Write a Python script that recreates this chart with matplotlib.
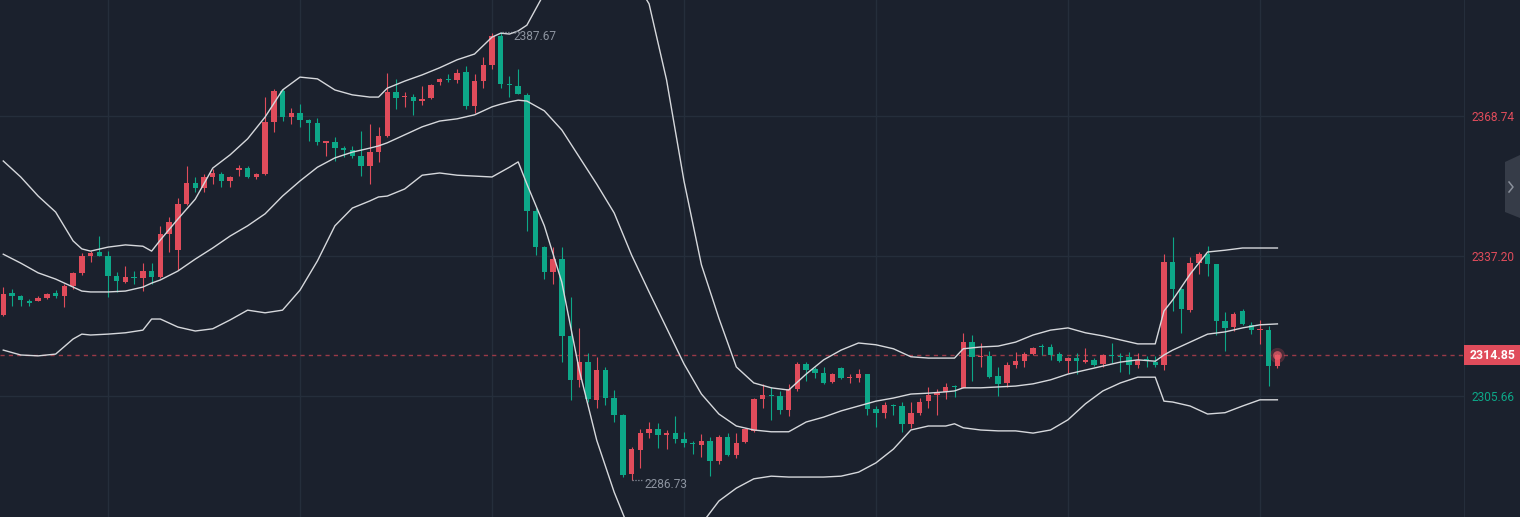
import numpy as np
import matplotlib.pyplot as plt
from matplotlib.patches import Rectangle, Polygon
from matplotlib.lines import Line2D
from matplotlib.transforms import blended_transform_factory, offset_copy

# candle data (index = bar number)
opens = [2323.9, 2328.9, 2328.2, 2327.1, 2327.1, 2327.7, 2328.9, 2328.2, 2330.4, 2333.4,
         2337.2, 2338.1, 2337.2, 2332.7, 2331.3, 2332.5, 2332.2, 2333.8, 2332.5, 2342.2,
         2338.5, 2348.9, 2353.6, 2352.5, 2355.0, 2355.7, 2354.1, 2356.6, 2357.0, 2355.0,
         2355.7, 2367.4, 2374.4, 2368.5, 2369.4, 2367.8, 2367.2, 2362.7, 2362.9, 2361.5,
         2361.1, 2359.7, 2357.5, 2360.6, 2364.2, 2374.1, 2373.0, 2373.0, 2372.1, 2372.8,
         2376.4, 2377.1, 2376.9, 2378.6, 2371.0, 2376.6, 2380.2, 2386.8, 2375.9, 2375.5,
         2373.5, 2347.3, 2339.2, 2333.6, 2336.5, 2319.2, 2309.3, 2313.3, 2304.8, 2311.5,
         2305.2, 2301.4, 2288.1, 2293.5, 2297.3, 2298.2, 2296.9, 2297.3, 2296.0, 2295.1,
         2294.6, 2295.5, 2291.0, 2296.4, 2292.4, 2295.3, 2297.8, 2305.0, 2305.9, 2305.7,
         2302.5, 2307.2, 2312.9, 2311.7, 2310.8, 2308.8, 2312.0, 2309.7, 2309.7, 2310.6,
         2302.7, 2301.8, 2303.6, 2303.4, 2299.3, 2301.8, 2304.5, 2305.9, 2306.6, 2307.9,
         2307.5, 2317.8, 2314.4, 2314.7, 2310.2, 2308.6, 2312.6, 2313.5, 2315.1, 2316.9,
         2316.7, 2315.1, 2313.5, 2314.2, 2313.3, 2313.8, 2312.9, 2314.9, 2314.7, 2314.4,
         2312.6, 2314.0, 2313.3, 2312.6, 2335.8, 2329.8, 2325.0, 2335.6, 2337.6, 2335.4,
         2322.6, 2321.2, 2324.8, 2321.7, 2320.5, 2320.5, 2312.4]
highs = [2330.2, 2329.8, 2328.3, 2327.5, 2328.2, 2328.9, 2329.5, 2330.9, 2333.5, 2337.9,
         2338.3, 2341.7, 2338.3, 2333.6, 2334.9, 2333.8, 2335.6, 2335.6, 2343.9, 2346.0,
         2350.3, 2357.5, 2355.0, 2355.7, 2356.8, 2356.1, 2355.2, 2357.7, 2357.5, 2355.9,
         2373.0, 2374.8, 2374.8, 2370.5, 2371.4, 2368.1, 2368.3, 2363.1, 2364.0, 2362.0,
         2362.0, 2365.4, 2366.9, 2366.3, 2378.4, 2377.1, 2374.1, 2373.7, 2375.5, 2375.9,
         2377.3, 2378.2, 2379.3, 2380.0, 2378.2, 2382.0, 2387.4, 2387.67, 2377.7, 2379.3,
         2373.9, 2348.0, 2339.5, 2339.2, 2339.2, 2328.0, 2321.0, 2315.3, 2314.4, 2312.2,
         2307.0, 2301.5, 2294.2, 2298.2, 2299.8, 2299.6, 2298.0, 2301.2, 2297.5, 2295.5,
         2297.1, 2296.4, 2296.9, 2297.3, 2297.3, 2298.4, 2305.1, 2308.4, 2307.7, 2306.8,
         2308.4, 2313.3, 2313.3, 2312.2, 2312.2, 2310.8, 2312.2, 2310.6, 2311.7, 2310.7,
         2303.4, 2304.3, 2303.9, 2304.3, 2304.3, 2305.2, 2307.7, 2307.2, 2308.6, 2308.1,
         2319.8, 2319.4, 2317.6, 2315.8, 2312.2, 2313.3, 2315.6, 2315.6, 2316.7, 2317.4,
         2317.4, 2315.6, 2314.4, 2315.3, 2316.5, 2314.2, 2315.1, 2317.6, 2315.3, 2315.6,
         2315.3, 2314.7, 2314.7, 2337.6, 2341.5, 2329.9, 2337.0, 2338.1, 2339.5, 2335.5,
         2324.6, 2324.6, 2325.3, 2322.3, 2322.8, 2321.4, 2315.1]
lows = [2323.7, 2325.9, 2325.9, 2325.9, 2327.0, 2327.5, 2327.7, 2325.7, 2329.8, 2332.9,
        2335.8, 2337.1, 2328.0, 2329.1, 2331.1, 2330.9, 2329.3, 2330.9, 2332.2, 2338.1,
        2334.0, 2348.7, 2351.6, 2351.6, 2353.4, 2352.7, 2352.7, 2355.2, 2354.8, 2354.5,
        2355.4, 2365.1, 2367.6, 2366.9, 2366.3, 2363.1, 2362.2, 2359.7, 2358.6, 2359.5,
        2359.3, 2355.2, 2353.4, 2358.4, 2364.0, 2370.3, 2370.8, 2369.0, 2371.2, 2372.6,
        2375.7, 2376.4, 2376.2, 2370.3, 2369.4, 2375.0, 2379.3, 2375.0, 2373.0, 2373.6,
        2342.8, 2337.4, 2332.0, 2330.9, 2313.3, 2304.8, 2307.7, 2304.3, 2303.0, 2303.6,
        2299.8, 2287.4, 2286.73, 2289.4, 2296.2, 2293.9, 2293.7, 2295.1, 2294.2, 2292.6,
        2291.9, 2287.6, 2290.3, 2292.1, 2291.7, 2295.1, 2297.5, 2303.0, 2300.2, 2301.6,
        2301.2, 2306.8, 2309.0, 2309.7, 2308.4, 2308.6, 2309.5, 2308.6, 2308.8, 2301.4,
        2298.7, 2300.7, 2301.4, 2297.5, 2298.4, 2301.4, 2303.0, 2301.4, 2305.0, 2305.4,
        2307.4, 2309.0, 2312.2, 2309.7, 2305.7, 2307.7, 2312.0, 2312.2, 2314.9, 2314.9,
        2313.8, 2313.3, 2310.8, 2310.6, 2313.2, 2312.4, 2312.2, 2313.1, 2311.1, 2310.6,
        2312.0, 2312.2, 2312.2, 2311.5, 2324.8, 2319.8, 2324.6, 2333.1, 2332.7, 2319.4,
        2315.8, 2320.3, 2321.7, 2319.6, 2317.4, 2307.9, 2312.0]
closes = [2328.6, 2328.2, 2327.3, 2326.6, 2327.7, 2328.6, 2328.2, 2330.4, 2333.4, 2337.2,
          2337.9, 2337.2, 2332.7, 2331.6, 2332.5, 2332.2, 2333.8, 2332.5, 2342.2, 2344.9,
          2348.9, 2353.6, 2352.5, 2355.0, 2355.9, 2354.1, 2355.0, 2357.0, 2355.0, 2355.7,
          2367.4, 2374.4, 2368.5, 2369.4, 2367.8, 2367.2, 2362.9, 2363.0, 2361.5, 2361.1,
          2359.7, 2357.5, 2360.6, 2364.2, 2374.1, 2372.8, 2373.2, 2372.1, 2372.6, 2375.7,
          2377.1, 2376.9, 2378.4, 2371.0, 2376.6, 2380.2, 2386.8, 2375.9, 2375.7, 2373.7,
          2347.3, 2339.2, 2333.6, 2336.5, 2319.2, 2309.3, 2313.3, 2305.0, 2311.5, 2305.2,
          2301.4, 2287.9, 2293.7, 2297.3, 2298.2, 2296.9, 2297.3, 2296.0, 2295.1, 2294.8,
          2295.5, 2291.0, 2296.4, 2292.4, 2295.1, 2298.2, 2305.0, 2305.9, 2305.7, 2302.5,
          2307.2, 2312.9, 2311.5, 2310.8, 2308.6, 2310.6, 2309.7, 2309.9, 2310.6, 2302.7,
          2301.8, 2303.6, 2303.4, 2299.3, 2301.8, 2304.3, 2305.9, 2306.3, 2307.7, 2307.7,
          2317.8, 2314.4, 2314.7, 2309.9, 2308.4, 2312.6, 2313.5, 2315.1, 2316.5, 2316.7,
          2314.9, 2313.5, 2314.2, 2313.5, 2313.8, 2312.6, 2314.9, 2314.7, 2314.4, 2312.6,
          2313.8, 2313.5, 2312.6, 2335.8, 2329.8, 2325.3, 2335.6, 2337.6, 2335.4, 2322.6,
          2321.0, 2324.1, 2321.9, 2320.5, 2320.8, 2312.4, 2314.85]

# Bollinger band values read at these bars
band_idx = [0, 2, 4, 6, 8, 9, 10, 12, 14, 16, 17, 18, 20, 22, 24, 26, 28, 30, 32, 34,
            36, 38, 40, 42, 43, 44, 46, 48, 50, 52, 54, 56, 57, 58, 59, 60, 62, 64, 66, 68,
            70, 72, 74, 76, 78, 80, 82, 84, 86, 88, 90, 92, 94, 96, 98, 100, 102, 104, 106, 108,
            109, 110, 112, 114, 116, 118, 120, 122, 124, 126, 128, 130, 132, 133, 134, 136, 138, 140, 142, 144,
            146]
boll_up = [2358.6, 2355.0, 2350.7, 2347.1, 2340.6, 2338.8, 2338.3, 2339.2, 2339.7, 2339.4,
           2338.3, 2340.8, 2345.5, 2350.0, 2357.0, 2360.0, 2363.6, 2368.5, 2374.6, 2377.5,
           2377.1, 2374.6, 2373.5, 2373.0, 2373.0, 2375.0, 2376.6, 2378.0, 2379.6, 2381.4,
           2382.7, 2386.5, 2387.4, 2387.2, 2387.9, 2389.2, 2396.4, 2403.4, 2407.5, 2410.2,
           2408.4, 2400.5, 2394.0, 2376.9, 2354.1, 2335.2, 2323.2, 2312.2, 2308.6, 2307.5,
           2307.0, 2310.6, 2313.8, 2316.0, 2317.6, 2317.2, 2316.3, 2314.5, 2314.2, 2314.2,
           2314.2, 2316.3, 2316.7, 2316.9, 2317.8, 2319.4, 2320.5, 2321.0, 2319.9, 2319.2,
           2318.3, 2317.4, 2317.4, 2324.8, 2327.3, 2333.1, 2338.1, 2338.5, 2339.0, 2339.0,
           2339.0]
boll_mid = [2337.6, 2335.6, 2333.4, 2332.0, 2330.2, 2329.3, 2329.1, 2329.1, 2329.3, 2330.2,
            2331.1, 2331.8, 2333.8, 2336.5, 2339.0, 2341.7, 2344.0, 2346.7, 2350.7, 2354.1,
            2357.2, 2359.3, 2360.6, 2361.5, 2362.0, 2362.7, 2364.5, 2366.3, 2367.6, 2368.1,
            2369.0, 2370.8, 2371.4, 2371.9, 2372.3, 2372.1, 2369.9, 2365.6, 2359.5, 2353.4,
            2346.9, 2337.4, 2329.1, 2321.0, 2312.9, 2306.1, 2301.6, 2298.9, 2298.0, 2297.6,
            2297.6, 2299.8, 2300.9, 2302.3, 2303.4, 2304.5, 2305.2, 2306.1, 2306.3, 2306.6,
            2306.8, 2307.5, 2307.5, 2307.7, 2307.9, 2308.4, 2309.3, 2310.6, 2311.5, 2312.4,
            2313.3, 2313.8, 2313.5, 2314.9, 2316.0, 2317.8, 2319.6, 2320.1, 2321.0, 2321.7,
            2321.9]
boll_low = [2316.0, 2314.9, 2314.7, 2315.1, 2318.5, 2319.6, 2319.4, 2319.6, 2319.9, 2320.5,
            2323.0, 2323.0, 2321.2, 2320.3, 2320.8, 2322.8, 2325.0, 2324.4, 2325.0, 2329.5,
            2336.1, 2344.0, 2348.0, 2349.6, 2350.5, 2350.7, 2352.3, 2355.4, 2355.9, 2355.4,
            2355.2, 2355.0, 2356.1, 2357.2, 2358.4, 2353.4, 2344.0, 2331.3, 2311.5, 2295.7,
            2284.0, 2274.3, 2263.3, 2265.3, 2271.6, 2276.8, 2282.0, 2284.9, 2287.0, 2287.6,
            2287.4, 2287.4, 2287.4, 2287.6, 2288.5, 2290.6, 2293.7, 2298.0, 2298.9, 2298.9,
            2299.4, 2298.5, 2298.0, 2297.8, 2297.8, 2297.3, 2298.0, 2300.3, 2303.9, 2306.8,
            2308.6, 2309.9, 2309.9, 2304.5, 2304.3, 2303.4, 2301.6, 2301.9, 2303.4, 2304.8,
            2304.8]

axis_levels = [2368.74, 2337.20, 2305.66]
axis_labels = ['2368.74', '2337.20', '2305.66']
grid_bars = [12, 34, 56, 78, 100, 122, 144]

BG = '#1b212d'
GRID = '#252e3b'
RED = '#e04c5b'
GREEN = '#0da788'
BAND = '#d6d8dc'
TXT = '#8c939f'

plt.rcParams['font.family'] = ['Roboto', 'DejaVu Sans']

W, H = 1520, 517
fig = plt.figure(figsize=(W / 100, H / 100), dpi=100, facecolor=BG)
ax = fig.add_axes([0, 0, 1464 / W, 1])
ax.set_facecolor(BG)

o = np.array(opens)
h = np.array(highs)
l = np.array(lows)
c = np.array(closes)
x = np.arange(len(c))
cols = np.where(c >= o, RED, GREEN)

# grid
for gx in grid_bars:
    ax.axvline(gx, color=GRID, lw=1, zorder=0)
for gy in axis_levels:
    ax.axhline(gy, color=GRID, lw=1, zorder=0)

# candles
ax.vlines(x, l, h, colors=cols, lw=0.8, zorder=2)
ax.bar(x, np.maximum(np.abs(c - o), 0.25), bottom=np.minimum(o, c), width=0.62,
       color=cols, lw=0, zorder=3)

# bollinger
for band in (boll_up, boll_mid, boll_low):
    ax.plot(band_idx, band, color=BAND, lw=1.0, zorder=4, solid_joinstyle='round')

# last price line + glow
last = c[-1]
ax.axhline(last, color='#9a3a47', lw=1, ls=(0, (3, 3)), zorder=1)
ax.scatter([x[-1]], [last], s=120, color=RED, alpha=0.25, lw=0, zorder=5)
ax.scatter([x[-1]], [last], s=40, color='#f0606c', alpha=0.7, lw=0, zorder=5)

# max / min markers
hi_i = int(np.argmax(h))
lo_i = int(np.argmin(l))
for i, v in ((hi_i, h[hi_i]), (lo_i, l[lo_i])):
    ax.plot([i + 0.1, i + 1.35], [v, v], color=TXT, lw=0.9, ls=(0, (1, 1.3)), zorder=5)
    ax.annotate(f'{v:.2f}', (i + 1.45, v), xytext=(0, -3), textcoords='offset points',
                color=TXT, fontsize=8.6, va='center', ha='left', zorder=6)

ax.set_xlim(-0.375, 167.38)
ax.set_ylim(2278.40, 2394.87)
ax.set_xticks([])
ax.set_yticks([])
for s in ax.spines.values():
    s.set_visible(False)
ax.spines['right'].set_visible(True)
ax.spines['right'].set_color(GRID)

# right price scale
trans = blended_transform_factory(fig.transFigure, ax.transData)
tr_lab = offset_copy(trans, fig=fig, y=-2, units='dots')
for v, s in zip(axis_levels, axis_labels):
    ax.text(1471 / W, v, s, transform=tr_lab, color=RED if v > last else GREEN,
            fontsize=8.6, va='center', ha='left')

tag = Rectangle((1464 / W, last - 2.25), 56 / W, 4.5, transform=trans,
                facecolor=RED, lw=0, zorder=8)
fig.add_artist(tag)
fig.text(1493 / W, last, f'{last:.2f}', transform=trans, color='white', fontsize=8.8,
         fontweight='bold', va='center', ha='center', zorder=9)

# collapse tab on the right edge
tab = [(1505, 162), (1520, 155), (1520, 218), (1505, 212)]
fig.add_artist(Polygon([(px / W, 1 - py / H) for px, py in tab], closed=True,
                       transform=fig.transFigure, facecolor='#363c48', lw=0))
fig.add_artist(Line2D([1509 / W, 1513 / W, 1509 / W], [1 - 182 / H, 1 - 187 / H, 1 - 192 / H],
                      transform=fig.transFigure, color='#8b919c', lw=1.1))

fig.savefig('out.png', dpi=100, facecolor=BG)
